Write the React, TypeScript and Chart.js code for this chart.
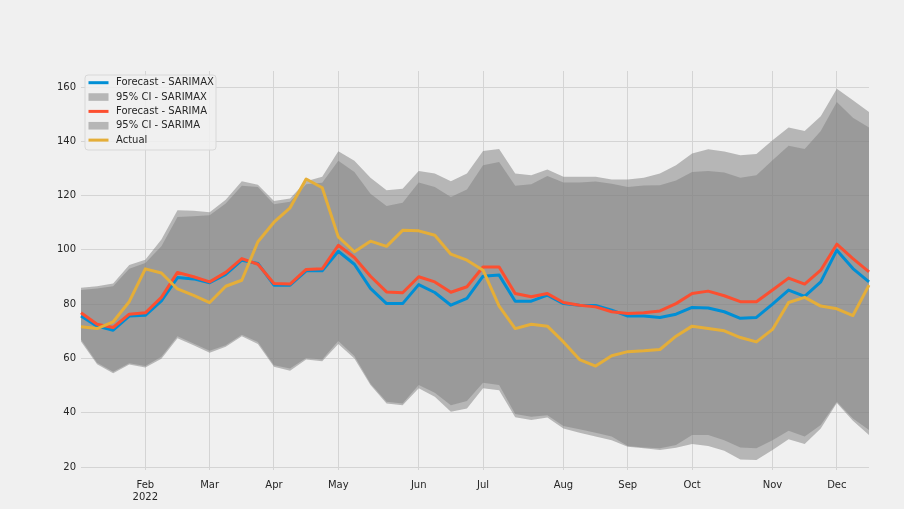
import React, { useEffect, useRef } from "react";
import { Chart, registerables } from "chart.js";

Chart.register(...registerables);

// ---- data (weekly, weeks starting on Monday) ----
const weeks = [
  "2022-01-03", "2022-01-10", "2022-01-17", "2022-01-24", "2022-01-31",
  "2022-02-07", "2022-02-14", "2022-02-21", "2022-02-28", "2022-03-07",
  "2022-03-14", "2022-03-21", "2022-03-28", "2022-04-04", "2022-04-11",
  "2022-04-18", "2022-04-25", "2022-05-02", "2022-05-09", "2022-05-16",
  "2022-05-23", "2022-05-30", "2022-06-06", "2022-06-13", "2022-06-20",
  "2022-06-27", "2022-07-04", "2022-07-11", "2022-07-18", "2022-07-25",
  "2022-08-01", "2022-08-08", "2022-08-15", "2022-08-22", "2022-08-29",
  "2022-09-05", "2022-09-12", "2022-09-19", "2022-09-26", "2022-10-03",
  "2022-10-10", "2022-10-17", "2022-10-24", "2022-10-31", "2022-11-07",
  "2022-11-14", "2022-11-21", "2022-11-28", "2022-12-05", "2022-12-12",
];

const sarimaxForecast = [
  75.6, 71.9, 70.4, 75.6, 75.9, 81.2, 89.8, 89.3, 87.9, 91.0,
  96.2, 95.0, 87.0, 87.0, 92.3, 92.3, 99.5, 94.7, 85.8, 80.2,
  80.2, 87.2, 84.3, 79.6, 82.1, 90.3, 90.7, 81.1, 81.1, 83.3,
  80.2, 79.6, 79.5, 77.8, 75.6, 75.6, 75.1, 76.3, 78.8, 78.6,
  77.2, 74.8, 75.1, 80.0, 85.2, 82.9, 88.2, 99.9, 93.1, 88.2,
];

const sarimaxLower = [
  67.0, 58.4, 55.1, 58.2, 57.2, 60.6, 68.2, 65.5, 62.8, 64.9,
  68.7, 66.1, 57.5, 56.3, 60.2, 59.6, 66.4, 60.9, 50.8, 44.0,
  43.4, 50.2, 47.4, 42.8, 44.3, 51.0, 50.2, 39.5, 38.5, 39.1,
  35.1, 33.9, 32.6, 31.2, 27.7, 27.2, 26.9, 28.1, 31.8, 31.8,
  29.9, 27.2, 26.9, 29.9, 33.4, 31.2, 35.5, 44.0, 37.9, 33.6,
];

const sarimaxUpper = [
  85.2, 85.8, 86.6, 93.0, 95.2, 101.3, 112.1, 112.4, 112.8, 117.1,
  123.6, 123.2, 116.8, 117.7, 124.2, 124.7, 132.8, 128.7, 120.7, 116.2,
  117.4, 124.8, 123.2, 119.5, 122.2, 131.2, 132.4, 123.6, 124.2, 127.2,
  124.8, 124.8, 125.2, 124.4, 123.2, 123.7, 123.8, 125.6, 128.7, 129.1,
  128.5, 126.6, 127.5, 133.0, 138.4, 137.2, 143.8, 154.5, 148.7, 145.1,
];

const sarimaForecast = [
  76.8, 72.6, 71.4, 76.3, 76.8, 82.5, 91.7, 90.1, 88.2, 91.7,
  96.8, 94.7, 87.6, 87.4, 92.8, 93.0, 101.7, 97.2, 90.3, 84.5,
  84.2, 90.1, 88.2, 84.4, 86.4, 93.7, 93.7, 83.9, 82.7, 83.9,
  80.6, 79.6, 79.0, 77.2, 76.6, 76.8, 77.5, 80.2, 83.9, 84.8,
  83.1, 80.9, 80.9, 85.2, 89.6, 87.4, 92.5, 102.1, 96.8, 91.9,
];

const sarimaLower = [
  66.2, 57.9, 54.5, 57.8, 56.7, 59.9, 67.4, 64.9, 62.1, 64.3,
  68.2, 65.3, 56.9, 55.5, 59.6, 59.0, 65.3, 60.0, 50.2, 43.4,
  42.8, 49.0, 45.9, 40.4, 41.6, 49.0, 48.3, 38.3, 37.3, 38.2,
  34.2, 32.6, 31.2, 29.9, 27.5, 26.9, 26.3, 27.1, 28.5, 27.7,
  26.0, 22.8, 22.6, 26.3, 30.2, 28.5, 34.2, 43.6, 37.0, 31.8,
];

const sarimaUpper = [
  86.0, 86.6, 87.6, 94.4, 96.4, 103.8, 114.6, 114.4, 113.9, 118.5,
  125.3, 124.0, 118.0, 118.9, 125.3, 126.9, 136.3, 132.8, 126.6, 122.0,
  122.5, 129.1, 128.1, 125.3, 128.1, 136.4, 137.2, 128.1, 127.5, 129.6,
  126.9, 126.9, 126.9, 125.9, 125.9, 126.6, 128.1, 131.2, 135.5, 137.1,
  136.2, 134.9, 135.3, 140.4, 145.1, 143.8, 149.2, 159.4, 155.1, 150.8,
];

const actual = [
  71.7, 71.0, 73.5, 80.9, 93.0, 91.5, 85.6, 83.2, 80.6, 86.6,
  88.8, 103.0, 110.2, 115.5, 126.1, 122.9, 104.8, 99.3, 103.2, 101.3,
  107.2, 107.0, 105.4, 98.4, 96.2, 92.5, 79.3, 71.0, 72.6, 71.9,
  66.1, 59.6, 57.2, 61.0, 62.5, 62.8, 63.3, 68.2, 71.9, 71.0,
  70.2, 67.7, 66.1, 70.7, 80.6, 82.5, 79.3, 78.3, 75.8, 87.0,
];

// month tick positions (week index containing the 1st of the month) and labels
const monthTickIndex = [4, 8, 12, 16, 21, 25, 30, 34, 38, 43, 47];
const monthTickLabels: (string | string[])[] = [
  ["Feb", "2022"], "Mar", "Apr", "May", "Jun", "Jul", "Aug", "Sep", "Oct", "Nov", "Dec",
];
const yTicks = [20, 40, 60, 80, 100, 120, 140, 160];

// ---- styling ----
const BG = "#f0f0f0";
const GRID = "#d4d4d4";
const TEXT = "#262626";
const BLUE = "#008fd5";
const RED = "#fc4f30";
const YELLOW = "#e5ae38";
const CI_FILL = "rgba(128,128,128,0.52)";
const FONT = "DejaVu Sans";

const legendEntries = [
  { label: "Forecast - SARIMAX", kind: "line", color: BLUE },
  { label: "95% CI - SARIMAX", kind: "patch", color: CI_FILL },
  { label: "Forecast - SARIMA", kind: "line", color: RED },
  { label: "95% CI - SARIMA", kind: "patch", color: CI_FILL },
  { label: "Actual", kind: "line", color: YELLOW },
];

const bgPlugin = {
  id: "bgFill",
  beforeDraw(chart: any) {
    const { ctx, width, height } = chart;
    ctx.save();
    ctx.fillStyle = BG;
    ctx.fillRect(0, 0, width, height);
    ctx.restore();
  },
};

const legendPlugin = {
  id: "boxLegend",
  afterDraw(chart: any) {
    const { ctx, chartArea } = chart;
    const x0 = chartArea.left + 4;
    const y0 = chartArea.top + 4;
    const w = 131;
    const h = 75;
    ctx.save();
    const r = 3;
    ctx.beginPath();
    ctx.moveTo(x0 + r, y0);
    ctx.lineTo(x0 + w - r, y0);
    ctx.quadraticCurveTo(x0 + w, y0, x0 + w, y0 + r);
    ctx.lineTo(x0 + w, y0 + h - r);
    ctx.quadraticCurveTo(x0 + w, y0 + h, x0 + w - r, y0 + h);
    ctx.lineTo(x0 + r, y0 + h);
    ctx.quadraticCurveTo(x0, y0 + h, x0, y0 + h - r);
    ctx.lineTo(x0, y0 + r);
    ctx.quadraticCurveTo(x0, y0, x0 + r, y0);
    ctx.closePath();
    ctx.fillStyle = "rgba(240,240,240,0.85)";
    ctx.fill();
    ctx.strokeStyle = "#d8d8d8";
    ctx.lineWidth = 1;
    ctx.stroke();

    ctx.font = `10px "${FONT}"`;
    ctx.textBaseline = "middle";
    ctx.textAlign = "left";
    legendEntries.forEach((e, i) => {
      const cy = y0 + 7.7 + i * 14.35;
      const hx = x0 + 3.5;
      if (e.kind === "line") {
        ctx.strokeStyle = e.color;
        ctx.lineWidth = 3;
        ctx.beginPath();
        ctx.moveTo(hx, cy);
        ctx.lineTo(hx + 20, cy);
        ctx.stroke();
      } else {
        ctx.fillStyle = e.color;
        ctx.fillRect(hx, cy - 3.8, 20, 7.6);
      }
      ctx.fillStyle = TEXT;
      ctx.fillText(e.label, x0 + 31, cy);
    });
    ctx.restore();
  },
};

const lineStyle = (color: string) => ({
  borderColor: color,
  backgroundColor: color,
  borderWidth: 3,
  pointRadius: 0,
  tension: 0,
  fill: false,
  borderJoinStyle: "round" as const,
  borderCapStyle: "butt" as const,
});

const bandEdge = {
  borderColor: "rgba(0,0,0,0)",
  borderWidth: 0,
  pointRadius: 0,
  tension: 0,
};

export default function App() {
  const ref = useRef<HTMLCanvasElement>(null);

  useEffect(() => {
    document.body.style.margin = "0";
    const canvas = ref.current;
    if (!canvas) return;
    const chart = new Chart(canvas, {
      type: "line",
      data: {
        labels: weeks,
        datasets: [
          { label: "Actual", data: actual, ...lineStyle(YELLOW), order: 0 },
          { label: "Forecast - SARIMA", data: sarimaForecast, ...lineStyle(RED), order: 1 },
          { label: "Forecast - SARIMAX", data: sarimaxForecast, ...lineStyle(BLUE), order: 2 },
          { label: "SARIMAX upper", data: sarimaxUpper, ...bandEdge, fill: false, order: 3 },
          { label: "95% CI - SARIMAX", data: sarimaxLower, ...bandEdge, fill: "-1", backgroundColor: CI_FILL, order: 4 },
          { label: "SARIMA upper", data: sarimaUpper, ...bandEdge, fill: false, order: 5 },
          { label: "95% CI - SARIMA", data: sarimaLower, ...bandEdge, fill: "-1", backgroundColor: CI_FILL, order: 6 },
        ] as any,
      },
      options: {
        animation: false,
        responsive: false,
        devicePixelRatio: 1,
        layout: { padding: { left: 0, top: 71, right: 35, bottom: 0 } },
        plugins: {
          legend: { display: false },
          tooltip: { enabled: false },
          filler: { drawTime: "beforeDatasetsDraw" } as any,
        },
        scales: {
          x: {
            type: "category",
            offset: false,
            border: { display: false },
            grid: { color: GRID, lineWidth: 1, drawTicks: false, offset: false },
            afterBuildTicks: (scale: any) => {
              scale.ticks = monthTickIndex.map((v) => ({ value: v }));
            },
            afterFit: (scale: any) => {
              scale.height = 39;
            },
            ticks: {
              autoSkip: false,
              maxRotation: 0,
              minRotation: 0,
              padding: 9,
              color: TEXT,
              font: { family: FONT, size: 10, lineHeight: 1.25 },
              callback: (value: any) => {
                const k = monthTickIndex.indexOf(Number(value));
                return k >= 0 ? monthTickLabels[k] : "";
              },
            },
          },
          y: {
            type: "linear",
            min: 18.9,
            max: 165.9,
            border: { display: false },
            grid: { color: GRID, lineWidth: 1, drawTicks: false },
            afterBuildTicks: (scale: any) => {
              scale.ticks = yTicks.map((v) => ({ value: v }));
            },
            afterFit: (scale: any) => {
              scale.width = 81;
            },
            ticks: {
              padding: 5,
              color: TEXT,
              font: { family: FONT, size: 10 },
              callback: (value: any) => String(value),
            },
          },
        },
      },
      plugins: [bgPlugin, legendPlugin],
    });
    return () => chart.destroy();
  }, []);

  return (
    <div style={{ width: 904, height: 509 }}>
      <canvas ref={ref} width={904} height={509} style={{ display: "block", width: 904, height: 509 }} />
    </div>
  );
}
